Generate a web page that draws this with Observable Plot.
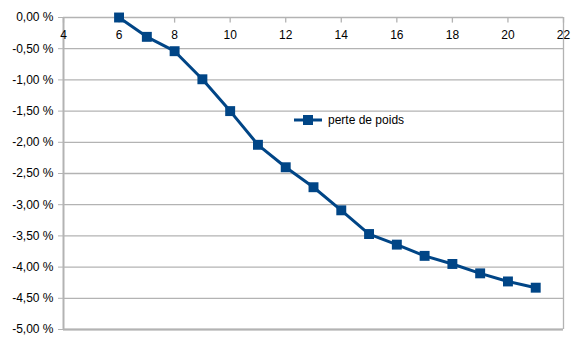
<!DOCTYPE html>
<html><head><meta charset="utf-8">
<script src="https://cdn.jsdelivr.net/npm/d3@7"></script>
<script src="https://cdn.jsdelivr.net/npm/@observablehq/plot@0.6"></script>
<style>
html,body{margin:0;padding:0;background:#fff;}
#wrap{position:relative;width:582px;height:348px;font-family:"Liberation Sans",Arial,sans-serif;}
#legend{position:absolute;left:294px;top:112px;display:flex;align-items:center;font-size:12px;color:#000;}
</style></head>
<body><div id="wrap"><div id="chart"></div>
<div id="legend"><svg width="30" height="16"><line x1="0" y1="8" x2="28" y2="8" stroke="#004586" stroke-width="3"/><rect x="9" y="3" width="10" height="10" fill="#004586"/></svg><span style="margin-left:4px">perte de poids</span></div></div>
<script>
const weeks = [6,7,8,9,10,11,12,13,14,15,16,17,18,19,20,21];
const loss = [0,-0.31,-0.54,-0.99,-1.50,-2.04,-2.40,-2.72,-3.09,-3.47,-3.64,-3.82,-3.95,-4.10,-4.23,-4.33];
const xTicks = [4,6,8,10,12,14,16,18,20,22];
const yTicks = [0,-0.5,-1,-1.5,-2,-2.5,-3,-3.5,-4,-4.5,-5];
const seriesName = "perte de poids";
const data = weeks.map((w,i)=>({x:w,y:loss[i]}));
const fmt = d => d.toFixed(2).replace(".", ",") + " %";
const color = "#004586";
const grid = "#b3b3b3";

const chart = Plot.plot({
  width: 582, height: 348,
  marginLeft: 63, marginRight: 19, marginTop: 17, marginBottom: 19,
  style: {fontFamily: '"Liberation Sans",Arial,sans-serif', fontSize: "12px", color: "#000", background: "#fff"},
  x: {domain: [4,22], axis: null},
  y: {domain: [-5,0]},
  marks: [
    Plot.ruleY(yTicks, {stroke: grid, strokeWidth: 1.3}),
    Plot.ruleY([-5], {stroke: grid, strokeWidth: 2}),
    Plot.ruleX([22], {stroke: grid, strokeWidth: 1.3}),
    Plot.ruleX([4], {stroke: grid, strokeWidth: 2}),
    Plot.axisY({ticks: yTicks, tickFormat: fmt, tickSize: 5, tickPadding: 5, stroke: grid, label: null, fill: "#000"}),
    Plot.ruleX(xTicks, {x: d=>d, y1: 0, y2: -0.09, stroke: grid, strokeWidth: 1.3}),
    Plot.text(xTicks, {x: d=>d, y: ()=>0, dy: 18, text: d=>String(d), fill: "#000", fontSize: 12}),
    Plot.line(data, {x: "x", y: "y", stroke: color, strokeWidth: 3}),
    Plot.dot(data, {x: "x", y: "y", symbol: "square", r: 5.6, fill: color, stroke: null})
  ]
});
document.getElementById("chart").appendChild(chart);
</script></body></html>
